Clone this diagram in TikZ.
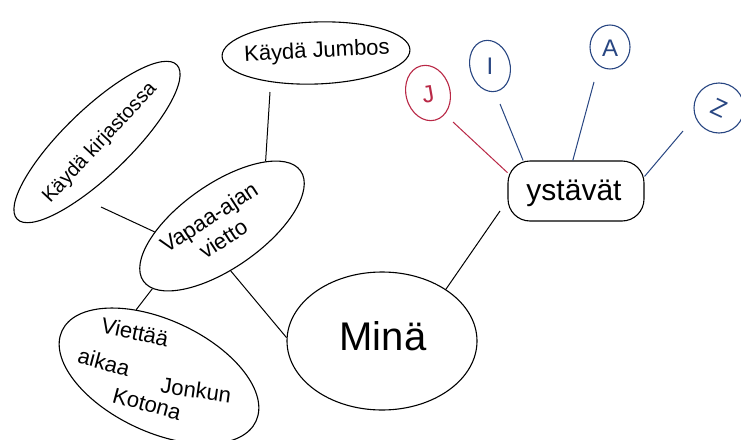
\documentclass[tikz,border=0pt]{standalone}
\usepackage{fontspec}
\setmainfont{Liberation Sans}
\usetikzlibrary{shapes.geometric}
\definecolor{myred}{RGB}{185,40,70}
\definecolor{myblue}{RGB}{40,70,130}
\begin{document}
\begin{tikzpicture}[x=1pt,y=-1pt,
  bubble/.style={ellipse, draw, line width=1.1pt, inner sep=0pt},
  lbl/.style={inner sep=0pt, align=center},
  link/.style={line width=1pt}]
\useasboundingbox (0,0) rectangle (741,439);
\fill[white] (0,0) rectangle (741,439);

% shapes
\node[bubble, minimum width=222, minimum height=66, rotate=44] (kir) at (97,142) {};
\node[bubble, minimum width=188, minimum height=62, rotate=2] (jum) at (316,53) {};
\node[bubble, draw=myred, minimum width=44, minimum height=56, rotate=15] (j) at (428,93) {};
\node[bubble, draw=myblue, minimum width=40, minimum height=52, rotate=15] (i) at (490,66) {};
\node[bubble, draw=myblue, minimum width=40, minimum height=44] (a) at (610,47) {};
\node[bubble, draw=myblue, minimum width=50, minimum height=50] (z) at (719,108) {};
\node[draw, rectangle, rounded corners=22pt, line width=1.1pt, minimum width=136, minimum height=60, inner sep=0pt] (yst) at (576,191) {};
\node[bubble, minimum width=192, minimum height=84, rotate=35] (vap) at (222,226) {};
\node[bubble, minimum width=214, minimum height=112, rotate=-25] (viet) at (159,376) {};
\node[bubble, minimum width=190, minimum height=138] (min) at (382,341) {};

% texts
\node[lbl, rotate=47, font=\fontsize{20}{24}\selectfont] (kirT) at (100,143) {Käydä kirjastossa};
\node[lbl, rotate=3, font=\fontsize{22}{26}\selectfont] (jumT) at (317,52) {Käydä Jumbos};
\node[lbl, text=myred, rotate=10, font=\fontsize{24}{28}\selectfont] (jT) at (428,94) {J};
\node[lbl, text=myblue, font=\fontsize{24}{28}\selectfont] (iT) at (490,66) {I};
\node[lbl, text=myblue, font=\fontsize{24}{28}\selectfont] (aT) at (610,48) {A};
\node[lbl, text=myblue, rotate=-25, font=\fontsize{24}{28}\selectfont] (zT) at (719,108) {Z};
\node[lbl, font=\fontsize{30}{34}\selectfont] (ystT) at (574,193) {ystävät};
\node[lbl, rotate=33, font=\fontsize{22}{26}\selectfont] (vapT) at (216,228) {Vapaa-ajan\\vietto};
\node[lbl, rotate=-12, font=\fontsize{22}{26}\selectfont] (v1) at (135,332) {Viettää};
\node[lbl, rotate=-15, font=\fontsize{22}{26}\selectfont] (v2) at (104,362) {aikaa};
\node[lbl, rotate=-8, font=\fontsize{22}{26}\selectfont] (v3) at (196,390) {Jonkun};
\node[lbl, rotate=-15, font=\fontsize{22}{26}\selectfont] (v4) at (147,404) {Kotona};
\node[lbl, font=\fontsize{40}{44}\selectfont] (minT) at (383,336) {Minä};

% free ends
\coordinate (kirE) at (101,207);
\coordinate (jumE) at (270,92);
\coordinate (jE) at (453,122);
\coordinate (iE) at (500,104);
\coordinate (aE) at (594,82);
\coordinate (zE) at (683,131);
\coordinate (ystE) at (500,211);

% connectors
\draw[link] (kirE) -- (vap.150);
\draw[link] (jumE) -- (vap.21);
\draw[link] (vap.187) -- (viet.134);
\draw[link] (vap.246) -- (min.178);
\draw[link] (min.39) -- (ystE);
\draw[link, myred] (yst.165) -- (jE);
\draw[link, myblue] (yst.150) -- (iE);
\draw[link, myblue] (yst.96) -- (aE);
\draw[link, myblue] (yst.12.7) -- (zE);
\end{tikzpicture}
\end{document}
